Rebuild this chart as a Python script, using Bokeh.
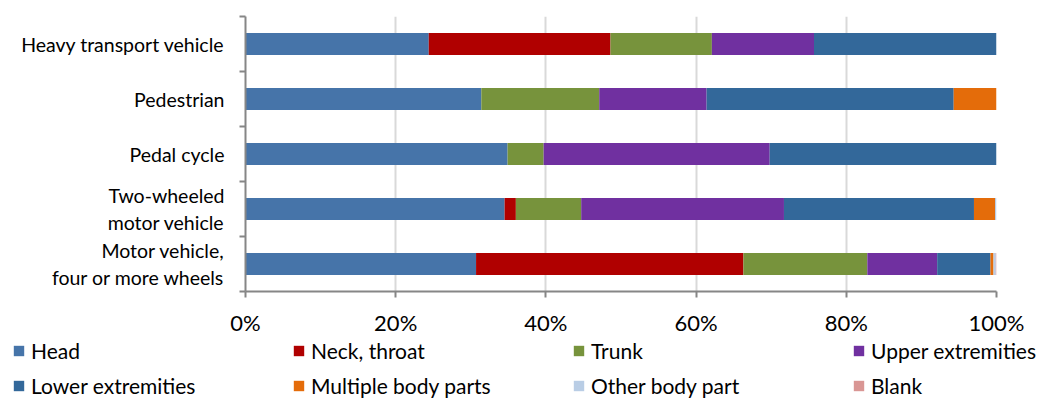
from bokeh.plotting import figure
from bokeh.layouts import column
from bokeh.models import ColumnDataSource, Range1d, FixedTicker, Legend, LegendItem, PrintfTickFormatter
from bokeh.embed import file_html
from bokeh.resources import INLINE

categories = ["Motor vehicle,\nfour or more wheels", "Two-wheeled\nmotor vehicle",
              "Pedal cycle", "Pedestrian", "Heavy transport vehicle"]
parts = ["Head", "Neck, throat", "Trunk", "Upper extremities",
         "Lower extremities", "Multiple body parts", "Other body part", "Blank"]
head = [30.7, 34.5, 34.9, 31.4, 24.4]
neck = [35.6, 1.5, 0.0, 0.0, 24.2]
trunk = [16.5, 8.7, 4.8, 15.7, 13.5]
upper = [9.3, 27.0, 30.1, 14.3, 13.6]
lower = [7.1, 25.3, 30.2, 32.9, 24.3]
multiple = [0.4, 2.8, 0.0, 5.7, 0.0]
other = [0.3, 0.2, 0.0, 0.0, 0.0]
blank = [0.1, 0.0, 0.0, 0.0, 0.0]
x_ticks = [0, 20, 40, 60, 80, 100]

colors = ["#4674A9", "#B00000", "#77933C", "#7030A0",
          "#33689A", "#E46C0A", "#B9CDE5", "#D99694"]
FONT = "Lato"

data = {"y": [i + 0.5 for i in range(len(categories))]}
for name, vals in zip(parts, [head, neck, trunk, upper, lower, multiple, other, blank]):
    data[name] = vals
source = ColumnDataSource(data)

W = 1039
p = figure(width=W, height=337, output_backend="svg", toolbar_location=None,
           x_range=Range1d(0, 100), y_range=Range1d(0, len(categories)),
           frame_width=751, frame_height=275,
           min_border_left=245, min_border_top=16, min_border_right=43, min_border_bottom=46)
p.outline_line_color = None
p.background_fill_color = "white"
p.frame_align = False

renderers = p.hbar_stack(parts, y="y", height=0.4, color=colors, source=source,
                         line_color=None)

# x axis
p.xaxis.ticker = FixedTicker(ticks=x_ticks)
p.xaxis.formatter = PrintfTickFormatter(format="%d%%")
p.xaxis.axis_line_color = "#868686"
p.xaxis.axis_line_width = 2
p.xaxis.major_tick_line_color = "#868686"
p.xaxis.major_tick_line_width = 2
p.xaxis.major_tick_out = 6
p.xaxis.major_tick_in = 0
p.xaxis.minor_tick_line_color = None
p.xaxis.major_label_text_font = FONT
p.xaxis.major_label_text_font_size = "22px"
p.xaxis.major_label_text_color = "#000000"
p.xaxis.major_label_standoff = 11

# y axis: labels at centers, ticks at boundaries
p.yaxis.ticker = FixedTicker(ticks=[i + 0.5 for i in range(len(categories))],
                             minor_ticks=list(range(len(categories) + 1)))
p.yaxis.major_label_overrides = {i + 0.5: c for i, c in enumerate(categories)}
p.yaxis.axis_line_color = "#868686"
p.yaxis.axis_line_width = 2
p.yaxis.major_tick_line_color = None
p.yaxis.major_tick_out = 0
p.yaxis.major_tick_in = 0
p.yaxis.minor_tick_line_color = "#868686"
p.yaxis.minor_tick_line_width = 2
p.yaxis.minor_tick_out = 6
p.yaxis.minor_tick_in = 0
p.yaxis.major_label_text_font = FONT
p.yaxis.major_label_text_font_size = "19.5px"
p.yaxis.major_label_text_color = "#000000"
p.yaxis.major_label_standoff = 15

p.xgrid.grid_line_color = "#D9D9D9"
p.xgrid.grid_line_width = 2
p.ygrid.grid_line_color = None

# legend panel (separate figure below the chart); its ranges keep the bars out of view
LH = 60
pl = figure(width=W, height=LH, output_backend="svg", toolbar_location=None,
            x_range=Range1d(0, W), y_range=Range1d(1000, 1000 + LH),
            min_border_left=0, min_border_right=0, min_border_top=0, min_border_bottom=0)
pl.axis.visible = False
pl.grid.visible = False
pl.outline_line_color = None
pl.frame_align = False
leg_renderers = pl.hbar_stack(parts, y="y", height=0.4, color=colors,
                              source=source, line_color=None)

def make_legend(items, loc):
    return Legend(items=items, location=loc, orientation="horizontal",
                  glyph_width=13, glyph_height=13, label_standoff=6,
                  label_width=255, spacing=6, padding=0, margin=0,
                  border_line_color=None, background_fill_alpha=0,
                  label_text_font=FONT, label_text_font_size="21px",
                  label_height=20, label_text_color="#000000")

items = [LegendItem(label=n, renderers=[r]) for n, r in zip(parts, leg_renderers)]
pl.add_layout(make_legend(items[:4], (12, 35)))
pl.add_layout(make_legend(items[4:], (12, 0)))

layout = column(p, pl, spacing=0)
open("out.html", "w").write(file_html(layout, INLINE))
